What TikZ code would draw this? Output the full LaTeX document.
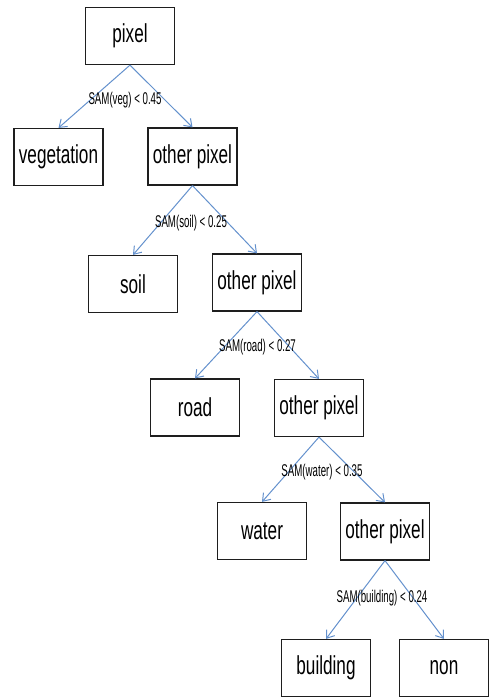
\documentclass[tikz,border=0pt]{standalone}
\usepackage{fontspec}
\usetikzlibrary{arrows.meta}
\newfontfamily\boxfont[FakeStretch=0.66]{Liberation Sans}
\newfontfamily\labelfont[FakeStretch=0.57]{Liberation Sans}
\definecolor{edgeblue}{RGB}{100,145,205}
\tikzset{
  classbox/.style={draw={rgb,255:red,30;green,30;blue,30}, line width=1.2pt, minimum width=89pt, minimum height=57pt, inner sep=0pt, font=\boxfont\fontsize{26}{30}\selectfont},
  rulelabel/.style={font=\labelfont\fontsize{17}{19}\selectfont, inner sep=0pt},
  split/.style={draw=edgeblue, line width=1pt, -{Straight Barb[length=7pt,width=10pt]}}
}
\begin{document}
\begin{tikzpicture}[x=1pt,y=1pt,yscale=-1,xscale=1]
\useasboundingbox (0,0) rectangle (489,699);
%Shape: Rectangle [root]
\node [classbox] (root) at (130,36) {pixel};
%Shape: Rectangle [level 1]
\node [classbox] (veg) at (58.5,157) {vegetation};
\node [classbox] (other1) at (192.5,156.5) {other pixel};
%Shape: Rectangle [level 2]
\node [classbox] (soil) at (133,284) {soil};
\node [classbox] (other2) at (257,282.5) {other pixel};
%Shape: Rectangle [level 3]
\node [classbox] (road) at (195,407.5) {road};
\node [classbox] (other3) at (319,408) {other pixel};
%Shape: Rectangle [level 4]
\node [classbox] (water) at (262,531) {water};
\node [classbox] (other4) at (385,531.5) {other pixel};
%Shape: Rectangle [level 5]
\node [classbox] (building) at (326,668) {building};
\node [classbox] (non) at (444,668) {non};
%Straight Lines
\draw [split] (root.south) -- (veg.north);
\draw [split] (root.south) -- (other1.north);
\draw [split] (other1.south) -- (soil.north);
\draw [split] (other1.south) -- (other2.north);
\draw [split] (other2.south) -- (road.north);
\draw [split] (other2.south) -- (other3.north);
\draw [split] (other3.south) -- (water.north);
\draw [split] (other3.south) -- (other4.north);
\draw [split] (other4.south) -- (building.north);
\draw [split] (other4.south) -- (non.north);
% Text Node
\node [rulelabel] (r1) at (125,100) {SAM(veg) < 0.45};
% Text Node
\node [rulelabel] (r2) at (191,223) {SAM(soil) < 0.25};
% Text Node
\node [rulelabel] (r3) at (257.5,347) {SAM(road) < 0.27};
% Text Node
\node [rulelabel] (r4) at (322,472) {SAM(water) < 0.35};
% Text Node
\node [rulelabel] (r5) at (382,598) {SAM(building) < 0.24};
\end{tikzpicture}
\end{document}
